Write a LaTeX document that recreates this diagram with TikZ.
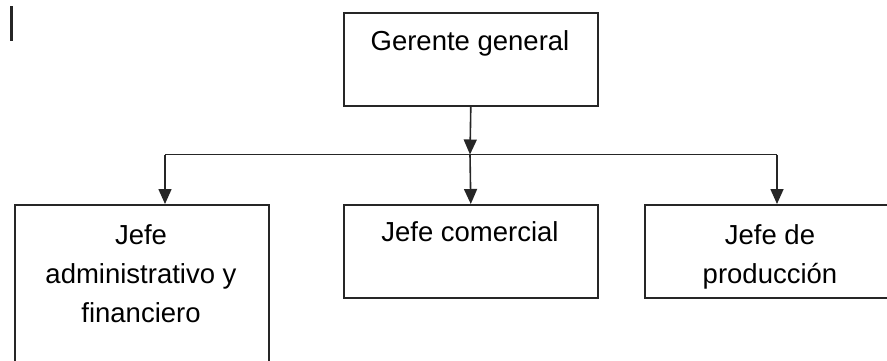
\documentclass[tikz,border=0pt]{standalone}
\usepackage{fontspec}
\setmainfont{Liberation Sans}
\usetikzlibrary{arrows.meta}
\begin{document}
\begin{tikzpicture}[x=1pt,y=-1pt,
  box/.style={draw=black!85, line width=1.6pt, minimum width=254pt, minimum height=93pt, inner sep=0pt, anchor=north west},
  lbl/.style={font=\fontsize{27.5}{39}\selectfont, align=center, inner sep=0pt, anchor=north},
  conn/.style={draw=black!85, line width=1.6pt},
  arr/.style={conn, -{Triangle[width=13pt,length=15pt]}}]
\useasboundingbox (0,0) rectangle (887,360);
% boxes
\node[box] (g) at (343,12) {};
\node[box, minimum height=200pt] (a) at (14,204) {};
\node[box] (c) at (343,204) {};
\node[box] (p) at (644,204) {};
% labels
\node[lbl] (gt) at (470,30) {Gerente general};
\node[lbl] (at) at (141,224) {Jefe\\administrativo y\\financiero};
\node[lbl] (ct) at (470,221) {Jefe comercial};
\node[lbl] (pt) at (770,224) {Jefe de\\producción};
% cursor bar
\draw[line width=2.5pt, black!85] (11.3,6) -- (11.3,41);
% connectors
\coordinate (bus) at (470,154.5);
\coordinate (bl) at (165,154.5);
\coordinate (br) at (777,154.5);
\draw[arr] (g.south) -- (bus);
\draw[conn] (bl) -- (br);
\draw[arr] (bl) -- (bl |- a.north);
\draw[arr] (bus) -- (c.north);
\draw[arr] (br) -- (br |- p.north);
\end{tikzpicture}
\end{document}
